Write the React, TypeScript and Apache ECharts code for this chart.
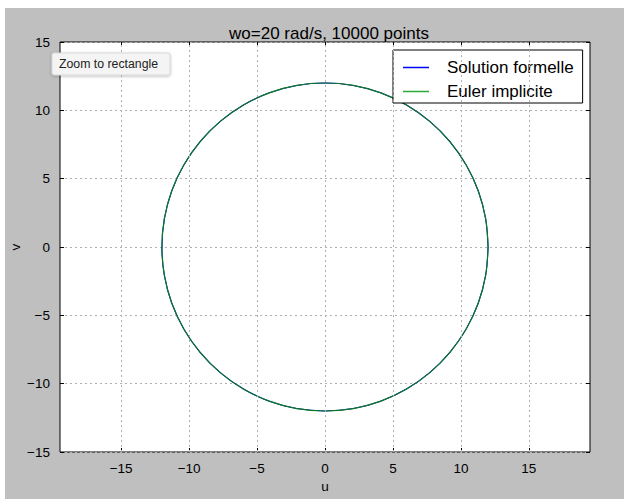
import React, { useEffect, useRef } from "react";
import * as echarts from "echarts";

const chartTitle = "wo=20 rad/s, 10000 points";
const seriesNames = ["Solution formelle", "Euler implicite"];
const tickValues = [-15, -10, -5, 0, 5, 10, 15];

// Points read along the trajectory (u, v)
const uFormelle = [12, 11.82, 11.28, 10.39, 9.19, 7.71, 6.0, 4.1, 2.08, 0, -2.08, -4.1, -6.0, -7.71, -9.19, -10.39, -11.28, -11.82, -12, -11.82, -11.28, -10.39, -9.19, -7.71, -6.0, -4.1, -2.08, 0, 2.08, 4.1, 6.0, 7.71, 9.19, 10.39, 11.28, 11.82, 12];
const vFormelle = [0, 2.08, 4.1, 6.0, 7.71, 9.19, 10.39, 11.28, 11.82, 12, 11.82, 11.28, 10.39, 9.19, 7.71, 6.0, 4.1, 2.08, 0, -2.08, -4.1, -6.0, -7.71, -9.19, -10.39, -11.28, -11.82, -12, -11.82, -11.28, -10.39, -9.19, -7.71, -6.0, -4.1, -2.08, 0];
const uEuler = [12, 11.82, 11.28, 10.39, 9.19, 7.71, 6.0, 4.1, 2.08, 0, -2.08, -4.1, -6.0, -7.71, -9.19, -10.39, -11.28, -11.82, -12, -11.82, -11.28, -10.39, -9.19, -7.71, -6.0, -4.1, -2.08, 0, 2.08, 4.1, 6.0, 7.71, 9.19, 10.39, 11.28, 11.82, 12];
const vEuler = [0, 2.08, 4.1, 6.0, 7.71, 9.19, 10.39, 11.28, 11.82, 12, 11.82, 11.28, 10.39, 9.19, 7.71, 6.0, 4.1, 2.08, 0, -2.08, -4.1, -6.0, -7.71, -9.19, -10.39, -11.28, -11.82, -12, -11.82, -11.28, -10.39, -9.19, -7.71, -6.0, -4.1, -2.08, 0];

const FONT = "'Liberation Sans', Arial, sans-serif";
const fmt = (v: number) => String(v).replace("-", "\u2212");

export default function App() {
  const ref = useRef<HTMLDivElement>(null);
  useEffect(() => {
    if (!ref.current) return;
    const chart = echarts.init(ref.current, undefined, { renderer: "svg" });
    const dataF = uFormelle.map((u, i) => [u, vFormelle[i]]);
    const dataE = uEuler.map((u, i) => [u, vEuler[i]]);
    const tick = { show: true, inside: true, length: 4, lineStyle: { color: "#000", width: 1 }, customValues: tickValues };
    const yTick = { show: true, inside: true, length: 4, lineStyle: { color: "#000", width: 1 } };
    const noLine = { show: false, onZero: false };
    const grid = {
      left: 60, top: 42, width: 530, height: 410,
      outerBoundsMode: "none", containLabel: false,
      show: true, backgroundColor: "#fff", borderColor: "#000", borderWidth: 1,
    };
    chart.setOption({
      animation: false,
      backgroundColor: "#bfbfbf",
      textStyle: { fontFamily: FONT },
      title: {
        text: chartTitle,
        left: 324,
        top: 20,
        textAlign: "center",
        textStyle: { fontFamily: FONT, fontSize: 17, fontWeight: "normal", color: "#000" },
      },
      grid,
      legend: {
        data: seriesNames.map((n) => ({ name: n, icon: "rect" })),
        orient: "vertical",
        left: 393,
        top: 50,
        padding: [8, 9, 2, 10],
        itemGap: 5,
        itemWidth: 26,
        itemHeight: 1.5,
        backgroundColor: "#fff",
        borderColor: "#000",
        borderWidth: 1,
        borderRadius: 0,
        textStyle: { fontFamily: FONT, fontSize: 17, color: "#000", lineHeight: 19, padding: [0, 0, 0, 13] },
      },
      xAxis: [
        {
          type: "value",
          min: -19.5,
          max: 19.5,
          name: "u",
          nameLocation: "middle",
          nameGap: 27,
          nameTextStyle: { fontFamily: FONT, fontSize: 13.5, color: "#000" },
          axisLine: noLine,
          axisTick: tick,
          axisLabel: { customValues: tickValues, formatter: fmt, fontFamily: FONT, fontSize: 13.5, color: "#000", margin: 9 },
          splitLine: { show: false },
        },
        {
          type: "value",
          position: "top",
          min: -19.5,
          max: 19.5,
          axisLine: noLine,
          axisTick: tick,
          axisLabel: { show: false, customValues: tickValues },
          splitLine: { show: false },
        },
      ],
      yAxis: [
        {
          type: "value",
          min: -15,
          max: 15,
          interval: 5,
          name: "v",
          nameLocation: "middle",
          nameGap: 38,
          nameMoveOverlap: false,
          nameRotate: 90,
          nameTextStyle: { fontFamily: FONT, fontSize: 13.5, color: "#000" },
          axisLine: noLine,
          axisTick: yTick,
          axisLabel: { formatter: fmt, fontFamily: FONT, fontSize: 13.5, color: "#000", margin: 10 },
          splitLine: { show: true, lineStyle: { color: "#b0b0b0", type: [2, 3], width: 1 } },
        },
        {
          type: "value",
          position: "right",
          min: -15,
          max: 15,
          interval: 5,
          axisLine: noLine,
          axisTick: yTick,
          axisLabel: { show: false },
          splitLine: { show: false },
        },
      ],
      graphic: [
        { type: "rect", shape: { x: 0, y: 0, width: 624, height: 8 }, style: { fill: "#fff" }, silent: true },
        { type: "rect", shape: { x: 0, y: 0, width: 5, height: 499 }, style: { fill: "#fff" }, silent: true },
        {
          type: "rect",
          z: 100,
          shape: { x: 52, y: 53, width: 118, height: 22, r: 2 },
          style: { fill: "#f4f4f4", stroke: "#d8d8d8", lineWidth: 1, shadowBlur: 3, shadowColor: "rgba(0,0,0,0.25)", shadowOffsetY: 1 },
        },
        {
          type: "text",
          z: 101,
          x: 59,
          y: 64,
          style: { text: "Zoom to rectangle", fontFamily: FONT, fontSize: 12.3, fill: "#222", verticalAlign: "middle" },
        },
      ],
      series: [
        {
          name: seriesNames[0],
          type: "line",
          data: dataF,
          symbol: "none",
          smooth: 0.35,
          lineStyle: { color: "#0000ff", width: 1.1 },
          itemStyle: { color: "#0000ff" },
          markLine: {
            silent: true,
            symbol: "none",
            label: { show: false },
            lineStyle: { color: "#b0b0b0", type: [2, 3], width: 1 },
            data: tickValues.map((v) => ({ xAxis: v })),
          },
        },
        {
          name: seriesNames[1],
          type: "line",
          data: dataE,
          symbol: "none",
          smooth: 0.35,
          lineStyle: { color: "#0b7a1e", width: 1.2 },
          itemStyle: { color: "#2aa83a" },
        },
      ],
    });
    return () => chart.dispose();
  }, []);
  return <div ref={ref} style={{ position: "fixed", left: 0, top: 0, width: 624, height: 499 }} />;
}
